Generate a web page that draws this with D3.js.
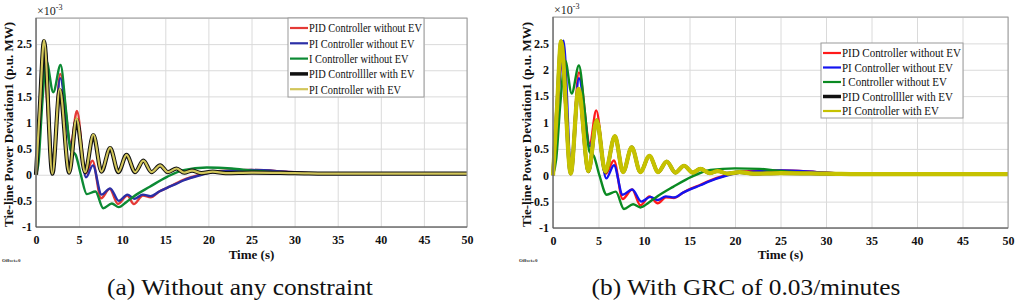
<!DOCTYPE html>
<html>
<head>
<meta charset="UTF-8">
<script src="https://d3js.org/d3.v7.min.js"></script>
<style>
  * { margin: 0; padding: 0; box-sizing: border-box; }
  body { background: #fff; font-family: "Liberation Serif", "Times New Roman", serif; }
</style>
</head>
<body>
<div id="chart"></div>
<script>
// ---- data (values in 1e-3 p.u. MW, time in s) ----
const xTicks = [0, 5, 10, 15, 20, 25, 30, 35, 40, 45, 50];
const yTicks = [-1, -0.5, 0, 0.5, 1, 1.5, 2, 2.5];
const legendNames = ["PID Controller without EV", "PI Controller without EV", "I Controller without EV", "PID Controllller with EV", "PI Controller with EV"];
const captions = ["(a) Without any constraint", "(b) With GRC of 0.03/minutes"];

// panel (a)
const redA = [[0,0],[0.4,1.0],[0.85,2.1],[1.95,0.1],[2.8,1.93],[4.05,0.6],[4.75,1.22],[5.75,0.02],[6.55,0.27],[7.55,-0.45],[8.55,-0.27],[9.5,-0.56],[10.6,-0.4],[11.35,-0.56],[12.4,-0.4],[13.3,-0.43],[14.3,-0.32],[15.2,-0.25],[16.2,-0.17],[17.1,-0.1],[19,0],[21,0.07],[25,0.09],[29,0.06],[33,0.02],[50,0.02]];
const blueA = [[0,0],[0.5,1.2],[1.05,2.45],[1.95,0.1],[2.8,1.85],[4.05,0.55],[4.75,1.02],[5.8,-0.05],[6.6,0.18],[7.6,-0.38],[8.6,-0.26],[9.6,-0.5],[10.6,-0.38],[11.4,-0.46],[12.4,-0.38],[13.3,-0.41],[14.3,-0.32],[15.2,-0.25],[16.2,-0.18],[17.1,-0.11],[19,-0.01],[21,0.06],[25,0.09],[29,0.06],[33,0.02],[50,0.02]];
const greenA = [[0,0],[0.3,0.25],[0.7,1.3],[1.2,2.18],[2.0,1.58],[2.85,2.1],[3.5,1.2],[4.0,0.48],[4.6,0.38],[5.2,0.0],[5.9,-0.37],[6.9,-0.32],[7.8,-0.64],[8.8,-0.55],[9.6,-0.62],[10.5,-0.52],[11.3,-0.42],[13.2,-0.23],[15.2,-0.04],[17.1,0.09],[19.8,0.14],[22.7,0.12],[25,0.08],[28,0.04],[32,0.02],[50,0.02]];
const blackA = [[0,0],[0.45,1.3],[0.93,2.56],[1.9,0.02],[2.75,1.62],[3.85,0.04],[4.7,1.05],[5.7,0.05],[6.65,0.76],[7.6,0.06],[8.6,0.51],[9.55,0.05],[10.5,0.38],[11.5,0.05],[12.45,0.27],[13.4,0.05],[14.4,0.18],[15.3,0.05],[16.3,0.12],[17.2,0.04],[18.1,0.08],[19.2,0.03],[20.5,0.06],[22,0.03],[25,0.04],[30,0.03],[35,0.02],[50,0.02]];
const yellowA = [[0,0],[0.45,1.3],[0.93,2.57],[1.9,0.02],[2.75,1.65],[3.85,0.04],[4.7,1.08],[5.7,0.05],[6.65,0.77],[7.6,0.06],[8.6,0.52],[9.55,0.05],[10.5,0.38],[11.5,0.05],[12.45,0.27],[13.4,0.05],[14.4,0.18],[15.3,0.05],[16.3,0.12],[17.2,0.04],[18.1,0.08],[19.2,0.03],[20.5,0.06],[22,0.03],[25,0.04],[30,0.03],[35,0.02],[50,0.02]];

// panel (b)
const redB = [[0,0],[0.4,1.0],[0.9,2.1],[1.95,0.1],[2.85,1.95],[4.05,0.6],[4.75,1.23],[5.8,0.03],[6.7,0.28],[7.65,-0.45],[8.7,-0.27],[9.6,-0.57],[10.6,-0.4],[11.5,-0.53],[12.4,-0.42],[13.3,-0.43],[14.3,-0.33],[15.2,-0.25],[16.2,-0.18],[17.1,-0.11],[19,0],[21,0.07],[25,0.09],[29,0.06],[33,0.02],[50,0.02]];
const blueB = [[0,0],[0.55,1.3],[1.15,2.55],[2.0,0.1],[2.85,1.84],[4.05,0.55],[4.8,0.97],[5.85,-0.06],[6.7,0.19],[7.65,-0.37],[8.7,-0.27],[9.7,-0.5],[10.7,-0.41],[11.5,-0.47],[12.4,-0.4],[13.3,-0.42],[14.3,-0.33],[15.2,-0.26],[16.2,-0.19],[17.1,-0.12],[19,-0.01],[21,0.06],[25,0.09],[29,0.06],[33,0.02],[50,0.02]];
const greenB = [[0,0],[0.35,0.3],[0.8,1.35],[1.35,2.17],[2.05,1.55],[2.85,2.08],[3.5,1.2],[4.0,0.45],[4.5,0.36],[5.1,0.0],[5.9,-0.37],[6.9,-0.31],[7.8,-0.64],[8.8,-0.55],[9.6,-0.61],[10.5,-0.52],[11.3,-0.42],[13.2,-0.22],[15.2,-0.03],[17.3,0.1],[20,0.13],[22.7,0.12],[25,0.08],[28,0.04],[32,0.02],[50,0.02]];
const blackB = [[0,0],[0.45,1.3],[0.9,2.54],[1.95,0.03],[2.8,1.62],[3.9,0.07],[4.8,1.04],[5.75,0.06],[6.8,0.74],[7.7,0.06],[8.65,0.53],[9.6,0.06],[10.6,0.37],[11.55,0.06],[12.5,0.26],[13.45,0.05],[14.4,0.18],[15.35,0.05],[16.2,0.12],[17.2,0.04],[18.1,0.08],[19.2,0.03],[20.5,0.06],[22,0.03],[25,0.04],[30,0.03],[35,0.02],[50,0.02]];
const yellowB = [[0,0],[0.45,1.3],[0.88,2.54],[1.95,0.03],[2.8,1.64],[3.9,0.08],[4.8,1.04],[5.75,0.07],[6.8,0.74],[7.7,0.06],[8.65,0.53],[9.6,0.06],[10.6,0.37],[11.55,0.06],[12.5,0.26],[13.45,0.05],[14.4,0.18],[15.35,0.05],[16.2,0.12],[17.2,0.04],[18.1,0.08],[19.2,0.03],[20.5,0.06],[22,0.03],[25,0.04],[30,0.03],[35,0.02],[50,0.02]];

const serif = '"Liberation Serif", "Times New Roman", serif';

const panels = [
  { box: {l: 36, r: 467, t: 18, b: 227}, ylabX: 13, cap: captions[0], capX: 240, capW: 266,
    series: [redA, blueA, greenA, blackA, yellowA],
    colors: ["#e43a36", "#2b2fa6", "#0c8a34", "#111111", "#d2c65a"],
    widths: [2.4, 2.4, 2.4, 4.2, 2.2],
    legend: {x: 288, y: 18, w: 136, h: 79, row: 15.3, font: 13, textW: 113} },
  { box: {l: 553, r: 1008, t: 17, b: 228}, ylabX: 531, cap: captions[1], capX: 746, capW: 309,
    series: [redB, blueB, greenB, blackB, yellowB],
    colors: ["#ff1a1a", "#1414f0", "#0a8a22", "#111111", "#c6c200"],
    widths: [2.4, 2.4, 2.4, 3.6, 4.2],
    legend: {x: 821, y: 43, w: 142, h: 75, row: 14.5, font: 13.5, textW: 119} }
];

const svg = d3.select("#chart").append("svg")
  .attr("width", 1017).attr("height", 303)
  .style("font-family", serif);

// squeeze a text node horizontally by factor f around its anchor point
function squeeze(sel, f) {
  sel.each(function () {
    const el = d3.select(this);
    const xx = +el.attr("x") || 0, yy = +el.attr("y") || 0;
    el.attr("transform", `translate(${xx},${yy}) scale(${f},1) translate(${-xx},${-yy})`);
  });
}

panels.forEach(p => {
  const {l, r, t, b} = p.box;
  const x = d3.scaleLinear().domain([0, 50]).range([l, r]);
  const y = d3.scaleLinear().domain([-1, 3]).range([b, t]);
  const g = svg.append("g");

  // grid + tick labels
  const gx = g.append("g").attr("transform", `translate(0,${b})`)
    .call(d3.axisBottom(x).tickValues(xTicks).tickSize(-(b - t)).tickPadding(8).tickFormat(d => d));
  const gy = g.append("g").attr("transform", `translate(${l},0)`)
    .call(d3.axisLeft(y).tickValues(yTicks.concat([3])).tickSize(-(r - l)).tickPadding(4)
      .tickFormat(d => d === 3 ? "" : String(d)));
  [gx, gy].forEach(a => {
    a.select(".domain").remove();
    a.selectAll("line").attr("stroke", "#dadada").attr("stroke-width", 1);
    a.selectAll("text").attr("fill", "#111").style("font-size", "12px").style("font-weight", "bold")
      .style("font-family", serif);
  });

  // curves
  const line = d3.line().x(d => x(d[0])).y(d => y(d[1])).curve(d3.curveMonotoneX);
  p.series.forEach((s, i) => {
    g.append("path").datum(s).attr("d", line).attr("fill", "none")
      .attr("stroke", p.colors[i]).attr("stroke-width", p.widths[i])
      .attr("stroke-linejoin", "round");
  });

  // axes box
  g.append("rect").attr("x", l).attr("y", t).attr("width", r - l).attr("height", b - t)
    .attr("fill", "none").attr("stroke", "#9a9a9a").attr("stroke-width", 1);
  g.append("line").attr("x1", l).attr("x2", l).attr("y1", t).attr("y2", b).attr("stroke", "#555");
  g.append("line").attr("x1", l).attr("x2", r).attr("y1", b).attr("y2", b).attr("stroke", "#555");

  // x10^-3
  const ex = g.append("text").attr("x", l + 1).attr("y", t - 3).attr("fill", "#222").style("font-size", "12px");
  ex.append("tspan").text("×10");
  ex.append("tspan").attr("dy", -5).style("font-size", "8px").text("-3");

  // axis labels
  g.append("text").attr("transform", `translate(${p.ylabX},${(t + b) / 2 + 2}) rotate(-90)`)
    .attr("text-anchor", "middle").style("font-size", "13px").style("font-weight", "bold").attr("fill", "#111")
    .attr("textLength", 205).attr("lengthAdjust", "spacingAndGlyphs")
    .text("Tie-line Power Deviation1 (p.u. MW)");
  g.append("text").attr("x", (l + r) / 2).attr("y", 259).attr("text-anchor", "middle")
    .style("font-size", "13px").style("font-weight", "bold").attr("fill", "#111").text("Time (s)");
  g.append("text").attr("x", l - 34).attr("y", 262).style("font-size", "5px").style("font-weight", "bold")
    .attr("fill", "#333").text("Offset=0");

  // caption
  const cap = g.append("text").attr("x", p.capX).attr("y", 295).attr("text-anchor", "middle")
    .style("font-size", "24px").style("font-family", serif).attr("fill", "#111").text(p.cap);
  squeeze(cap, p.capW / cap.node().getComputedTextLength());

  // legend
  const L = p.legend;
  const lg = g.append("g").attr("transform", `translate(${L.x},${L.y})`);
  lg.append("rect").attr("width", L.w).attr("height", L.h).attr("fill", "#fff")
    .attr("stroke", "#9a9a9a").attr("stroke-width", 1);
  const texts = [];
  legendNames.forEach((name, i) => {
    const cy = 10 + i * L.row;
    lg.append("line").attr("x1", 2).attr("x2", 20).attr("y1", cy).attr("y2", cy)
      .attr("stroke", p.colors[i]).attr("stroke-width", i === 3 ? 3.5 : 2.2);
    texts.push(lg.append("text").attr("x", 21).attr("y", cy + 4.5).style("font-size", L.font + "px")
      .attr("fill", "#111").text(name));
  });
  const f = L.textW / texts[0].node().getComputedTextLength();
  texts.forEach(tx => squeeze(tx, f));
});
</script>
</body>
</html>
